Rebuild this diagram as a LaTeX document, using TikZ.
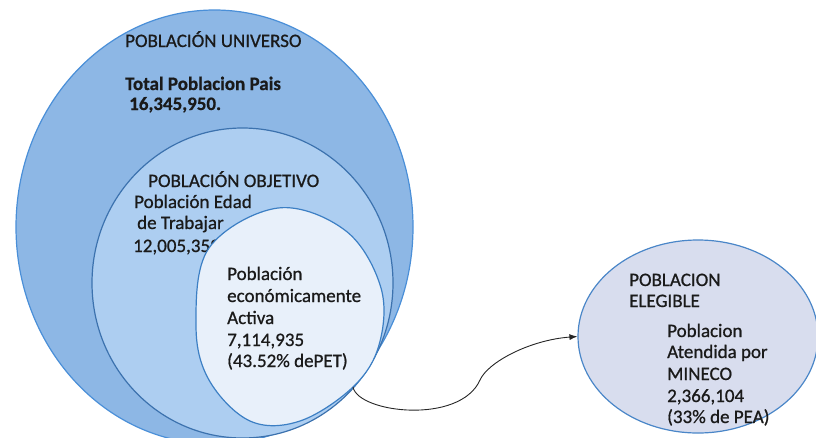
\documentclass[tikz,border=0pt]{standalone}
\usepackage{fontspec}
\setmainfont{Carlito}[FakeBold=0.6]
\newfontfamily\heavyfont{Carlito}[FakeBold=0.8,BoldFeatures={FakeBold=0.6}]
\usetikzlibrary{shapes.geometric,arrows.meta}
\definecolor{uniFill}{HTML}{8DB7E5}
\definecolor{uniLine}{HTML}{4A8FD8}
\definecolor{objFill}{HTML}{ADCEF1}
\definecolor{objLine}{HTML}{3C72AE}
\definecolor{peaFill}{HTML}{E8F0FA}
\definecolor{peaLine}{HTML}{3C7FC4}
\definecolor{eleFill}{HTML}{D8DDEE}
\definecolor{eleLine}{HTML}{4A86C8}
\definecolor{txt}{HTML}{1A1A1A}
\begin{document}
\begin{tikzpicture}[x=1pt,y=-1pt,
  blob/.style={ellipse,inner sep=0pt,line width=1.2pt},
  lbl/.style={anchor=base west,inner sep=0pt,text=txt,font=\heavyfont\fontsize{19}{22}\selectfont},
  lblb/.style={lbl,font=\fontsize{19}{22}\selectfont\bfseries},
  conn/.style={line width=0.9pt,draw=black!85,-{Latex[length=8pt,width=6pt]}}]
\useasboundingbox (0,0) rectangle (816,437);
\begin{scope}
\clip (0,0) rectangle (816,437);
% universe
\node[blob,draw=uniLine,fill=uniFill,minimum width=397pt,minimum height=434pt] (uni) at (214.5,227) {};
\node[lbl] (u1) at (125,47) {POBLACIÓN UNIVERSO};
\node[lblb] (u2) at (125,90) {Total Poblacion Pais};
\node[lblb] (u3) at (129,110) {16,345,950.};
% objective
\node[blob,draw=objLine,fill=objFill,minimum width=301pt,minimum height=310pt] (obj) at (242.5,283) {};
\node[lbl] (o1) at (148,187) {POBLACIÓN OBJETIVO};
\node[lbl] (o2) at (134,208) {Población Edad};
\node[lbl] (o3) at (137,229) {de Trabajar};
\node[lbl] (o4) at (133,252) {12,005,359};
% PEA (slightly egg-shaped outline)
\coordinate (peaout) at (353,387);
\draw[line width=1.2pt,draw=peaLine,fill=peaFill] plot[smooth cycle,tension=0.6] coordinates {
  (278,208) (346,231) (381,288) (379,345) (353,387) (300,421)
  (250,421) (209,380) (196,325) (209,248)};
\node[lbl] (p1) at (227,280) {Población};
\node[lbl] (p2) at (227,302) {económicamente};
\node[lbl] (p3) at (227,324) {Activa};
\node[lbl] (p4) at (227,346) {7,114,935};
\node[lbl] (p5) at (227,367) {(43.52\% dePET)};
% eligible
\node[blob,draw=eleLine,fill=eleFill,minimum width=240pt,minimum height=193pt] (ele) at (698,336.5) {};
\node[lbl] (e1) at (629,286) {POBLACION};
\node[lbl] (e2) at (629,307) {ELEGIBLE};
\node[lbl] (e3) at (667,337) {Poblacion};
\node[lbl] (e4) at (667,358) {Atendida por};
\node[lbl] (e5) at (667,380) {MINECO};
\node[lbl] (e6) at (667,402) {2,366,104};
\node[lbl] (e7) at (667,423) {(33\% de PEA)};
% connector
\coordinate (mid) at (480,380);
\draw[line width=0.9pt,draw=black!85] (peaout) .. controls (358,413) and (460,425) .. (mid);
\draw[conn] (mid) .. controls (488,362) and (530,340) .. (ele.west);
\end{scope}
\end{tikzpicture}
\end{document}
